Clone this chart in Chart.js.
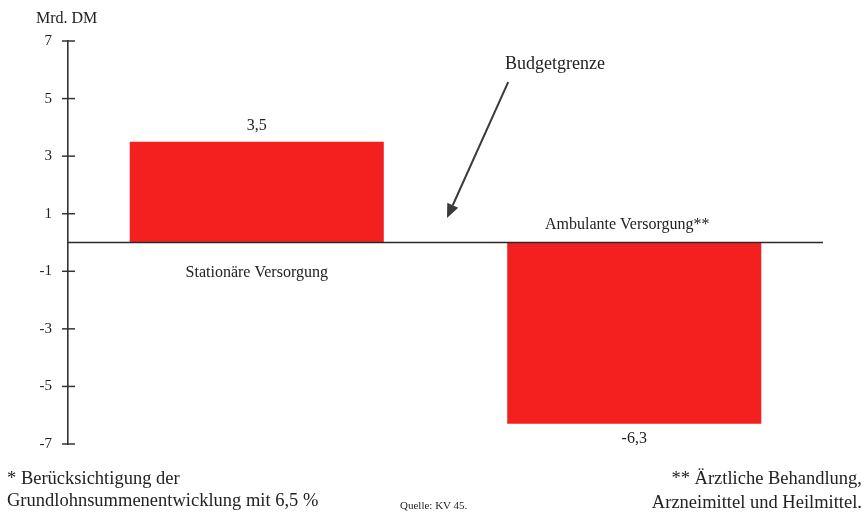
<!DOCTYPE html>
<html>
<head>
<meta charset="utf-8">
<script src="https://cdn.jsdelivr.net/npm/chart.js@4.4.1/dist/chart.umd.min.js"></script>
<style>
  html, body { margin: 0; padding: 0; background: #fff; }
  #wrap { position: relative; width: 865px; height: 532px; overflow: hidden; }
  canvas { position: absolute; left: 0; top: 0; }
  .t { position: absolute; font-family: "Liberation Serif", "DejaVu Serif", serif; color: #222; white-space: nowrap; }
</style>
</head>
<body>
<div id="wrap">
  <canvas id="c" width="865" height="532"></canvas>
  <div class="t" style="left:36px; top:8px; font-size:16px; line-height:20px;">Mrd. DM</div>
  <div class="t" style="left:7px; top:467px; font-size:18.5px; line-height:22px;">* Berücksichtigung der<br>Grundlohnsummenentwicklung mit 6,5 %</div>
  <div class="t" style="right:3px; top:466px; font-size:18.5px; line-height:24px; text-align:right;">** Ärztliche Behandlung,<br>Arzneimittel und Heilmittel.</div>
  <div class="t" style="left:400px; top:498px; font-size:11px; line-height:14px;">Quelle: KV 45.</div>
</div>
<script>
// ---- data ----
const categories = ["Stationäre Versorgung", "Ambulante Versorgung**"];
const values = [3.5, -6.3];
const yTicks = [-7, -5, -3, -1, 1, 3, 5, 7];
const yTickLabels = ["-7", "-5", "-3", "-1", "1", "3", "5", "7"];
const annotationText = "Budgetgrenze";

const SERIF = "'Liberation Serif', 'DejaVu Serif', serif";
const fmt = v => String(v).replace('.', ',');

const overlay = {
  id: 'overlay',
  afterDatasetsDraw(chart) {
    const ctx = chart.ctx;
    const xs = chart.scales.x, ys = chart.scales.y;
    const area = chart.chartArea;
    const y0 = ys.getPixelForValue(0);
    ctx.save();
    // zero line (budget boundary)
    ctx.strokeStyle = '#2a2a2a';
    ctx.lineWidth = 1.6;
    ctx.beginPath();
    ctx.moveTo(area.left, y0);
    ctx.lineTo(area.right, y0);
    ctx.stroke();
    // y tick marks crossing the axis
    ctx.strokeStyle = '#333';
    ctx.lineWidth = 1.5;
    yTicks.forEach(v => {
      const py = ys.getPixelForValue(v);
      ctx.beginPath();
      ctx.moveTo(area.left - 6, py);
      ctx.lineTo(area.left + 7, py);
      ctx.stroke();
    });
    // labels
    ctx.fillStyle = '#222';
    ctx.textAlign = 'center';
    ctx.textBaseline = 'middle';
    const meta = chart.getDatasetMeta(0);
    meta.data.forEach((bar, i) => {
      const v = values[i];
      ctx.font = '16px ' + SERIF;
      if (v >= 0) {
        ctx.fillText(fmt(v), bar.x, bar.y - 16);
        ctx.fillText(categories[i], bar.x, y0 + 30);
      } else {
        ctx.fillText(fmt(v), bar.x, bar.y + 15);
        ctx.fillText(categories[i], bar.x - 7, y0 - 18);
      }
    });
    // Budgetgrenze annotation with arrow
    const xMid = (xs.getPixelForValue(0) + xs.getPixelForValue(1)) / 2;
    const catW = xs.getPixelForValue(1) - xs.getPixelForValue(0);
    const tx = xMid + 0.29 * catW, ty = ys.getPixelForValue(6.2);
    ctx.font = '18px ' + SERIF;
    ctx.fillText(annotationText, tx, ty);
    const sx = xMid + 0.166 * catW, sy = ys.getPixelForValue(5.57);
    const ex = xMid + 0.004 * catW, ey = ys.getPixelForValue(0.85);
    const ang = Math.atan2(ey - sy, ex - sx);
    const hl = 14, hw = 6;
    const bx = ex - hl * Math.cos(ang), by = ey - hl * Math.sin(ang);
    ctx.strokeStyle = '#3a3a3a';
    ctx.fillStyle = '#3a3a3a';
    ctx.lineWidth = 2;
    ctx.beginPath();
    ctx.moveTo(sx, sy);
    ctx.lineTo(bx, by);
    ctx.stroke();
    ctx.beginPath();
    ctx.moveTo(ex, ey);
    ctx.lineTo(bx + hw * Math.sin(ang), by - hw * Math.cos(ang));
    ctx.lineTo(bx - hw * Math.sin(ang), by + hw * Math.cos(ang));
    ctx.closePath();
    ctx.fill();
    ctx.restore();
  }
};

new Chart(document.getElementById('c'), {
  type: 'bar',
  data: {
    labels: categories,
    datasets: [{
      data: values,
      backgroundColor: '#f42020',
      borderWidth: 0,
      barPercentage: 0.673,
      categoryPercentage: 1.0
    }]
  },
  options: {
    responsive: false,
    animation: false,
    devicePixelRatio: 1,
    layout: { padding: { top: 41, bottom: 88, left: 0, right: 42 } },
    plugins: { legend: { display: false }, tooltip: { enabled: false }, title: { display: false } },
    scales: {
      x: { display: false },
      y: {
        min: -7, max: 7,
        afterFit(scale) { scale.width = 68; },
        afterBuildTicks(scale) { scale.ticks = yTicks.map(v => ({ value: v })); },
        ticks: {
          padding: 16,
          color: '#222',
          font: { family: SERIF, size: 15 },
          callback: (v) => yTickLabels[yTicks.indexOf(v)]
        },
        grid: { display: true, drawOnChartArea: false, drawTicks: false },
        border: { display: true, color: '#333', width: 1.6 }
      }
    }
  },
  plugins: [overlay]
});
</script>
</body>
</html>
